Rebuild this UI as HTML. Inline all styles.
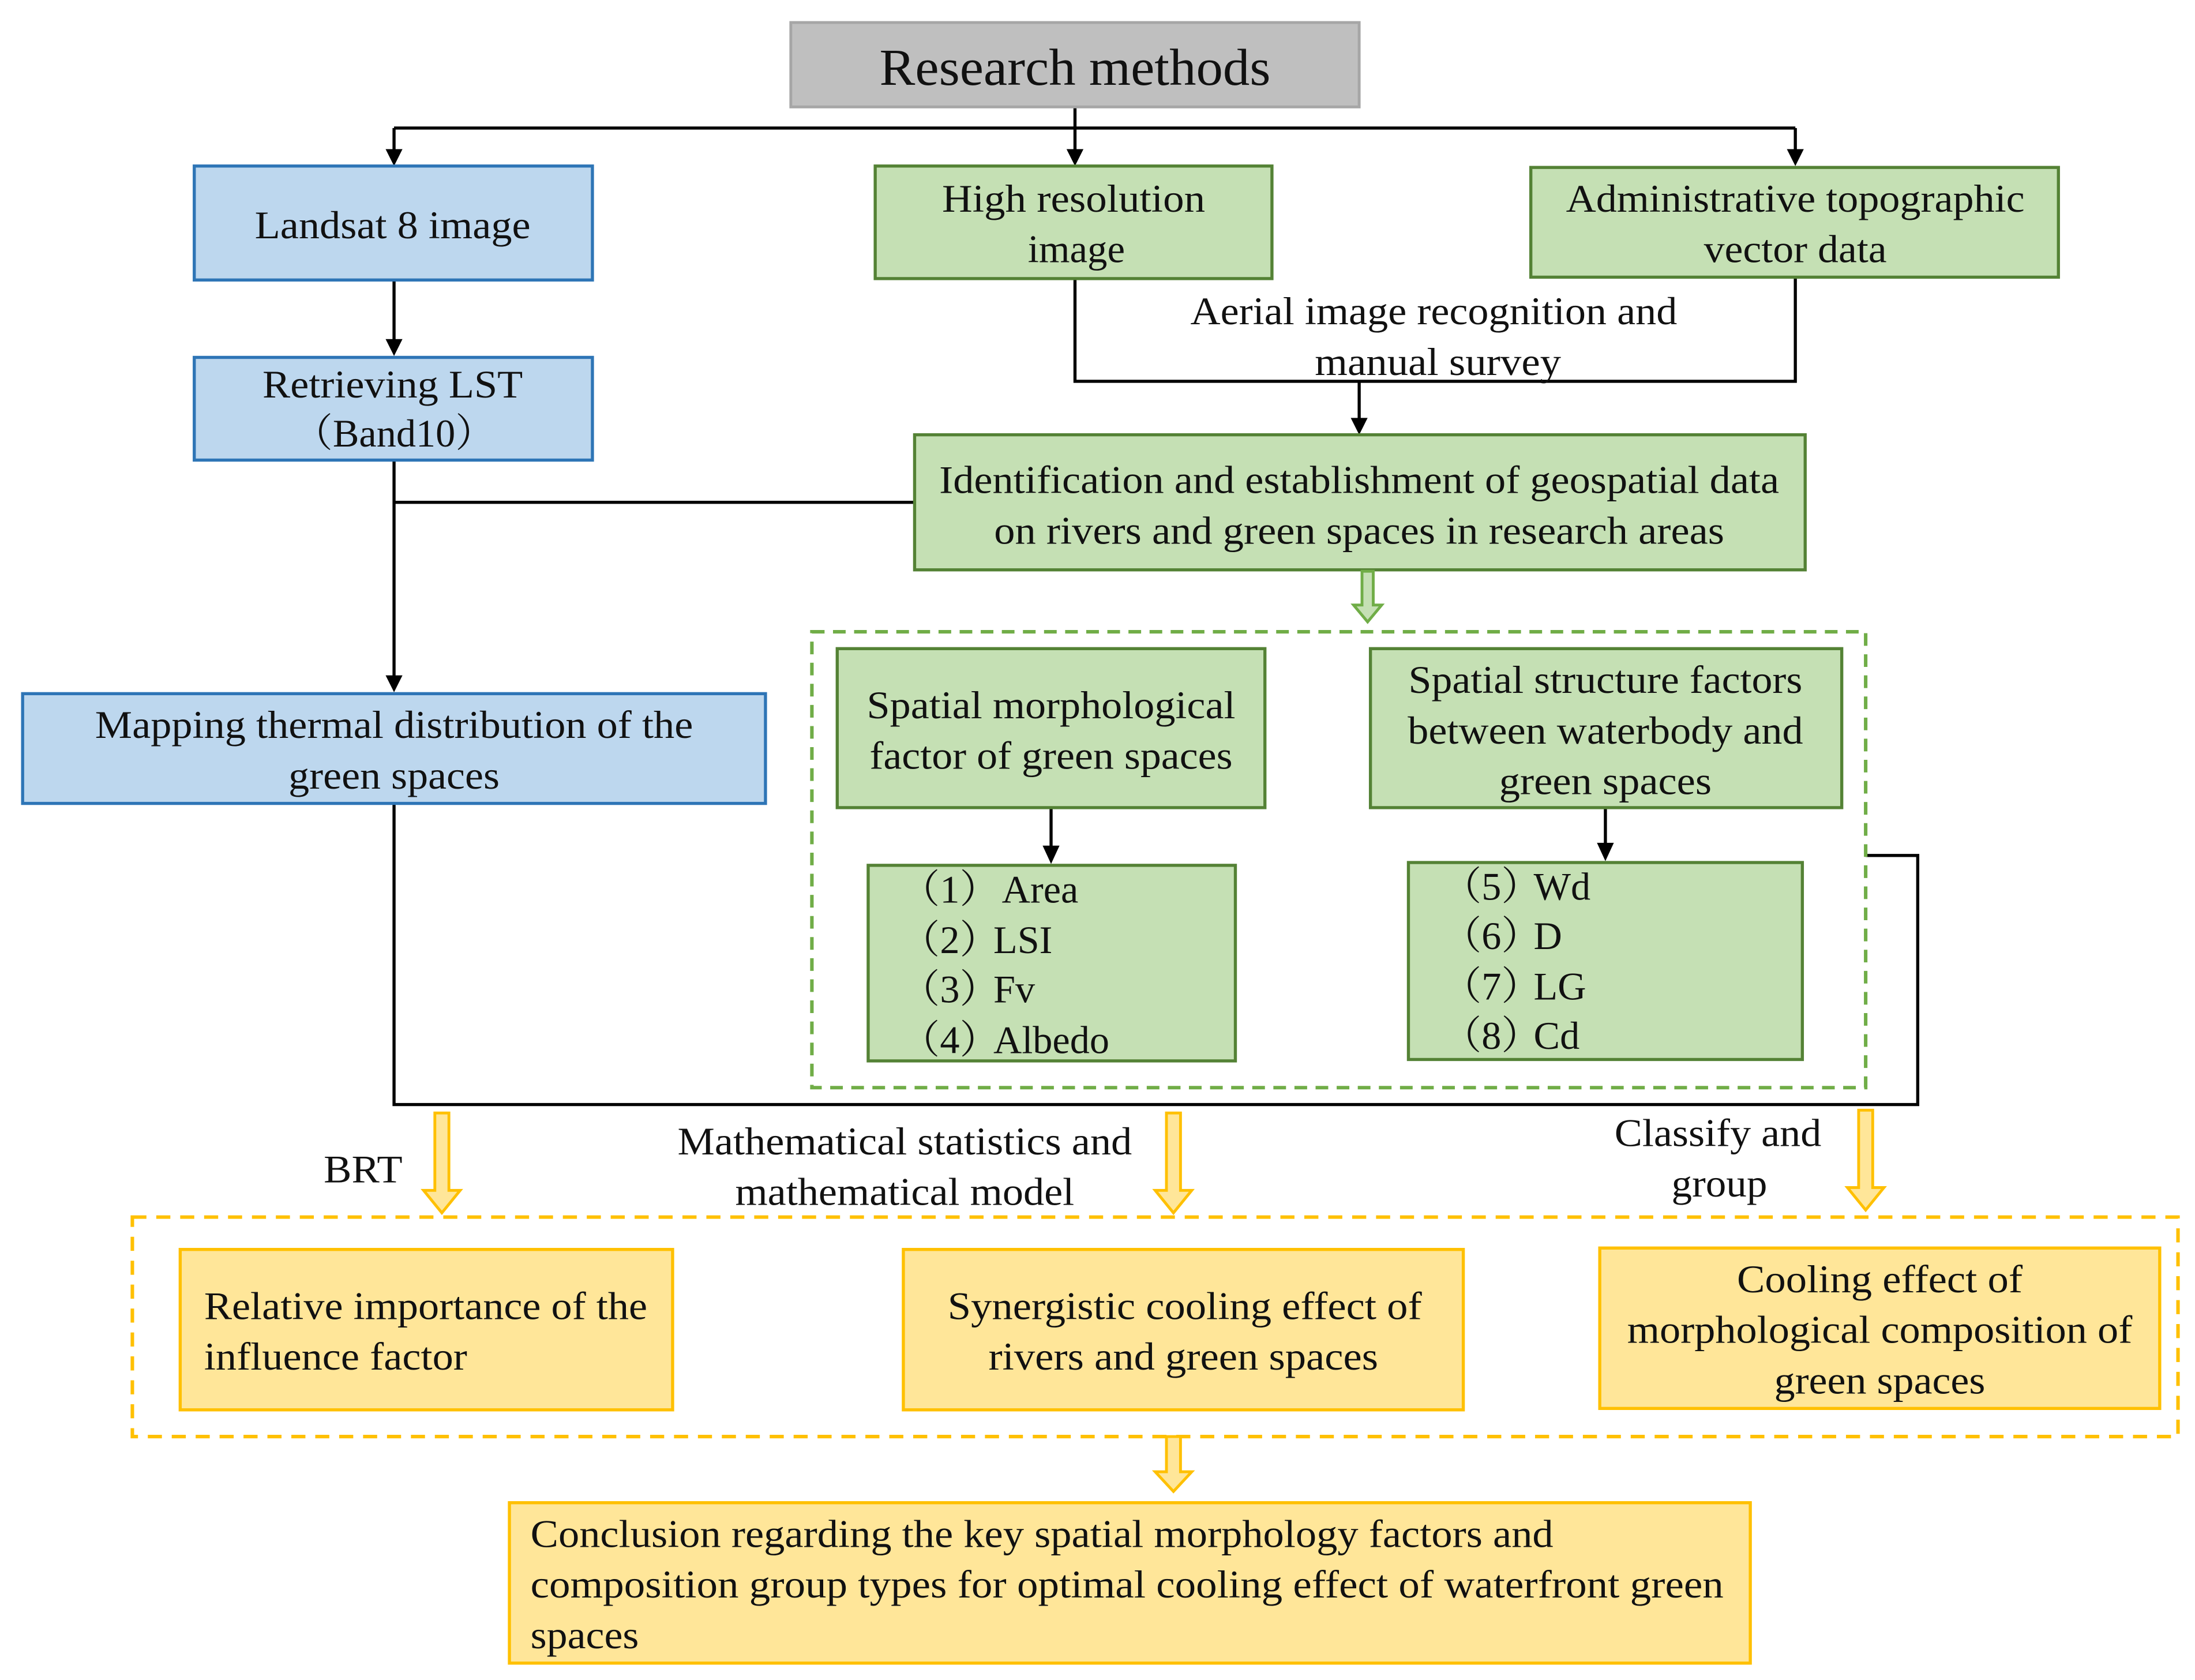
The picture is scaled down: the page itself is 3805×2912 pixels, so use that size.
<!DOCTYPE html>
<html><head><meta charset="utf-8"><style>html,body{margin:0;padding:0;background:#fff}svg{display:block}
text{font-family:"Liberation Serif","DejaVu Serif","Noto Serif CJK SC",serif;}</style></head>
<body>
<svg width="3805" height="2912" viewBox="0 0 1560 1194" xmlns="http://www.w3.org/2000/svg" font-size="28" fill="#111">
<rect width="1560" height="1194" fill="#fff"/>
<g stroke="#000" stroke-width="2.2" fill="none">
<path d="M280,91 H1276"/>
<path d="M764,76 V108"/>
<path d="M280,91 V108"/>
<path d="M1276,91 V108"/>
<path d="M280,199 V243"/>
<path d="M764,198 V271 H1276 V197"/>
<path d="M966,271 V299"/>
<path d="M280,327 V482"/>
<path d="M280,357 H650"/>
<path d="M747,574 V603"/>
<path d="M1141,574 V601"/>
<path d="M280,571 V785 H1363 V608 H1326"/>
</g>
<g fill="#000">
<path d="M274,106 h12 l-6,12 z"/>
<path d="M758,106 h12 l-6,12 z"/>
<path d="M1270,106 h12 l-6,12 z"/>
<path d="M274,241 h12 l-6,12 z"/>
<path d="M960,297 h12 l-6,12 z"/>
<path d="M274,480 h12 l-6,12 z"/>
<path d="M741,601 h12 l-6,13 z"/>
<path d="M1135,599 h12 l-6,13 z"/>
</g>
<rect x="562" y="16" width="404" height="60" fill="#bfbfbf" stroke="#a6a6a6" stroke-width="2"/>
<text x="764" y="48" font-size="37" text-anchor="middle" dominant-baseline="central" textLength="278" lengthAdjust="spacingAndGlyphs">Research methods</text>
<g fill="#bdd7ee" stroke="#2e75b6" stroke-width="2.2">
<rect x="138" y="118" width="283" height="81"/>
<rect x="138" y="254" width="283" height="73"/>
<rect x="16" y="493" width="528" height="78"/>
</g>
<g fill="#c5e0b4" stroke="#548235" stroke-width="2.2">
<rect x="622" y="118" width="282" height="80"/>
<rect x="1088" y="119" width="375" height="78"/>
<rect x="650" y="309" width="633" height="96"/>
<rect x="595" y="461" width="304" height="113"/>
<rect x="617" y="615" width="261" height="139"/>
<rect x="974" y="461" width="335" height="113"/>
<rect x="1001" y="613" width="280" height="140"/>
</g>
<rect x="577" y="449" width="749" height="324" fill="none" stroke="#70ad47" stroke-width="2.5" stroke-dasharray="9,6"/>
<rect x="94" y="865" width="1454" height="156" fill="none" stroke="#ffc000" stroke-width="2.5" stroke-dasharray="10,7"/>
<g fill="#ffe699" stroke="#ffc000" stroke-width="2.2">
<rect x="128" y="888" width="350" height="114"/>
<rect x="642" y="888" width="398" height="114"/>
<rect x="1137" y="887" width="398" height="114"/>
<rect x="362" y="1068" width="882" height="114"/>
</g>
<g fill="#ffe699" stroke="#ffc000" stroke-width="2">
<path d="M309,791 h10 v55 h8 l-13,16 l-13,-16 h8 z"/>
<path d="M829,791 h10 v55 h8 l-13,16 l-13,-16 h8 z"/>
<path d="M1321,789 h10 v55 h8 l-13,16 l-13,-16 h8 z"/>
<path d="M829,1021 h10 v25 h8 l-13,14 l-13,-14 h8 z"/>
</g>
<path d="M968,406 h8 v24 h6 l-10,12 l-10,-12 h6 z" fill="#c5e0b4" stroke="#70ad47" stroke-width="2"/>
<g text-anchor="middle" dominant-baseline="central" lengthAdjust="spacingAndGlyphs">
<text x="279" y="160" textLength="196" lengthAdjust="spacingAndGlyphs">Landsat 8 image</text>
<text x="763" y="141" textLength="187" lengthAdjust="spacingAndGlyphs">High resolution</text>
<text x="765" y="177" textLength="69" lengthAdjust="spacingAndGlyphs">image</text>
<text x="1276" y="141" textLength="326" lengthAdjust="spacingAndGlyphs">Administrative topographic</text>
<text x="1276" y="177" textLength="130" lengthAdjust="spacingAndGlyphs">vector data</text>
<text x="279" y="273" textLength="185" lengthAdjust="spacingAndGlyphs">Retrieving LST</text>
<text x="280" y="308">（Band10）</text>
<text x="1019" y="221" textLength="346" lengthAdjust="spacingAndGlyphs">Aerial image recognition and</text>
<text x="1022" y="257" textLength="175" lengthAdjust="spacingAndGlyphs">manual survey</text>
<text x="966" y="341" textLength="597" lengthAdjust="spacingAndGlyphs">Identification and establishment of geospatial data</text>
<text x="966" y="377" textLength="519" lengthAdjust="spacingAndGlyphs">on rivers and green spaces in research areas</text>
<text x="747" y="501" textLength="262" lengthAdjust="spacingAndGlyphs">Spatial morphological</text>
<text x="747" y="537" textLength="258" lengthAdjust="spacingAndGlyphs">factor of green spaces</text>
<text x="1141" y="483" textLength="280" lengthAdjust="spacingAndGlyphs">Spatial structure factors</text>
<text x="1141" y="519" textLength="281" lengthAdjust="spacingAndGlyphs">between waterbody and</text>
<text x="1141" y="555" textLength="151" lengthAdjust="spacingAndGlyphs">green spaces</text>
<text x="280" y="515" textLength="425" lengthAdjust="spacingAndGlyphs">Mapping thermal distribution of the</text>
<text x="280" y="551" textLength="150" lengthAdjust="spacingAndGlyphs">green spaces</text>
<text x="258" y="831" textLength="56" lengthAdjust="spacingAndGlyphs">BRT</text>
<text x="643" y="811" textLength="323" lengthAdjust="spacingAndGlyphs">Mathematical statistics and</text>
<text x="643" y="847" textLength="241" lengthAdjust="spacingAndGlyphs">mathematical model</text>
<text x="1221" y="805" textLength="147" lengthAdjust="spacingAndGlyphs">Classify and</text>
<text x="1222" y="841" textLength="68" lengthAdjust="spacingAndGlyphs">group</text>
<text x="842" y="928" textLength="337" lengthAdjust="spacingAndGlyphs">Synergistic cooling effect of</text>
<text x="841" y="964" textLength="277" lengthAdjust="spacingAndGlyphs">rivers and green spaces</text>
<text x="1336" y="909" textLength="203" lengthAdjust="spacingAndGlyphs">Cooling effect of</text>
<text x="1336" y="945" textLength="359" lengthAdjust="spacingAndGlyphs">morphological composition of</text>
<text x="1336" y="981" textLength="150" lengthAdjust="spacingAndGlyphs">green spaces</text>
</g>
<g dominant-baseline="central">
<text x="640" y="632">（1）</text><text x="712" y="632">Area</text>
<text x="640" y="668">（2）</text><text x="706" y="668">LSI</text>
<text x="640" y="703">（3）</text><text x="706" y="703">Fv</text>
<text x="640" y="739">（4）</text><text x="706" y="739">Albedo</text>
<text x="1025" y="630">（5）</text><text x="1090" y="630">Wd</text>
<text x="1025" y="665">（6）</text><text x="1090" y="665">D</text>
<text x="1025" y="701">（7）</text><text x="1090" y="701">LG</text>
<text x="1025" y="736">（8）</text><text x="1090" y="736">Cd</text>
<text x="145" y="928" textLength="315" lengthAdjust="spacingAndGlyphs">Relative importance of the</text>
<text x="145" y="964" textLength="187" lengthAdjust="spacingAndGlyphs">influence factor</text>
<text x="377" y="1090" textLength="727" lengthAdjust="spacingAndGlyphs">Conclusion regarding the key spatial morphology factors and</text>
<text x="377" y="1126" textLength="848" lengthAdjust="spacingAndGlyphs">composition group types for optimal  cooling effect of waterfront green</text>
<text x="377" y="1162" textLength="77" lengthAdjust="spacingAndGlyphs">spaces</text>
</g>
</svg>
</body></html>
